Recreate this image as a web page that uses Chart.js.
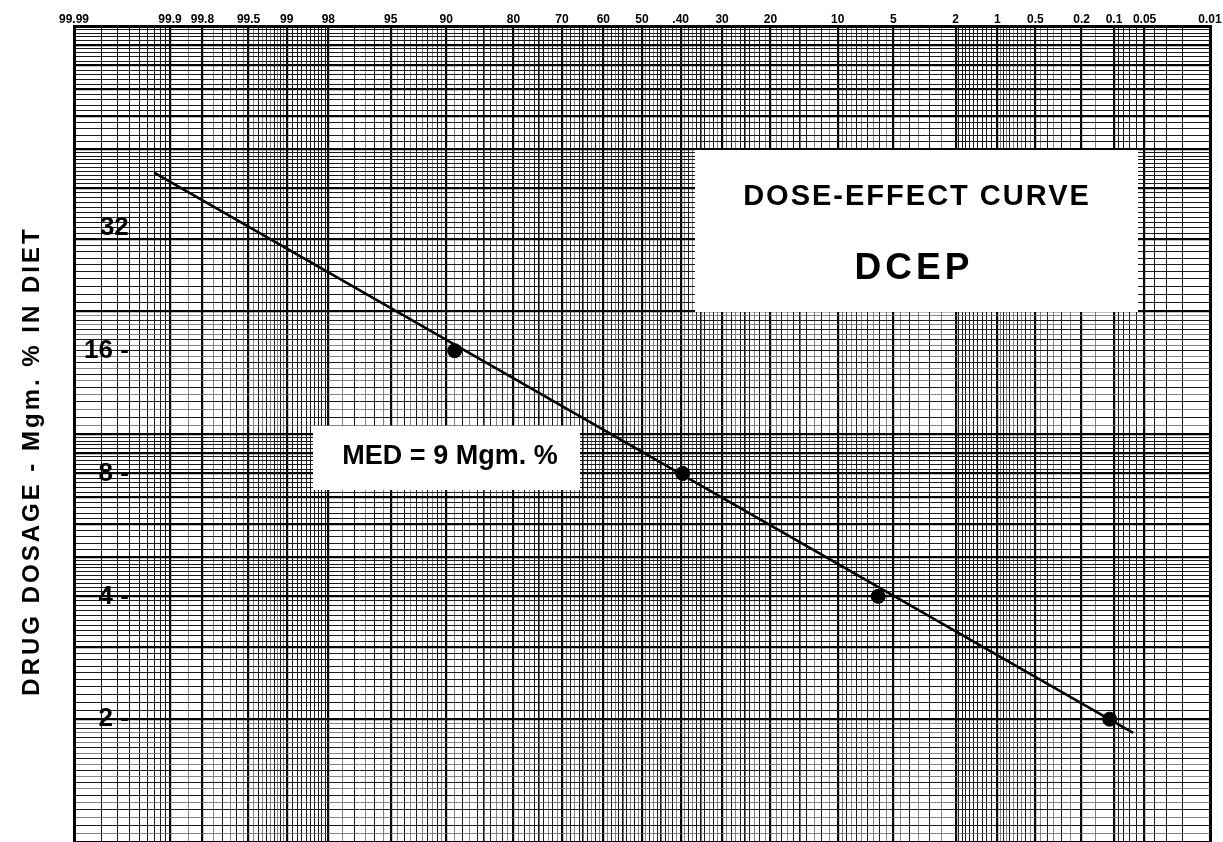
<!DOCTYPE html>
<html>
<head>
<meta charset="utf-8">
<script src="https://cdn.jsdelivr.net/npm/chart.js@4.4.1/dist/chart.umd.min.js"></script>
<style>
html,body{margin:0;padding:0;background:#fff;}
#wrap{width:1223px;height:842px;position:relative;overflow:hidden;}
</style>
</head>
<body>
<div id="wrap"><canvas id="c" width="1223" height="842"></canvas></div>
<script>
// ---------------- DATA ----------------
const pointEffectPct = [89, 39.5, 6.1, 0.11];     // % effect (probability scale)
const pointDoseMgPct = [16, 8, 4, 2];              // drug dosage, Mgm. % in diet
const fitEffectPct   = [99.93, 0.065];             // fitted dose-effect line end points
const fitDoseMgPct   = [43.7, 1.85];
const probTickValues = [99.99, 99.9, 99.8, 99.5, 99, 98, 95, 90, 80, 70, 60, 50, 40, 30, 20, 10, 5, 2, 1, 0.5, 0.2, 0.1, 0.05, 0.01];
const probTickLabels = ['99.99','99.9','99.8','99.5','99','98','95','90','80','70','60','50','.40','30','20','10','5','2','1','0.5','0.2','0.1','0.05','0.01'];
const doseTickValues = [2, 4, 8, 16, 32];
const doseTickLabels = ['2 -', '4 -', '8 -', '16 -', '32'];
const yTitle = 'DRUG DOSAGE - Mgm. % IN DIET';
const chartTitle = 'DOSE-EFFECT CURVE';
const chartSubtitle = 'DCEP';
const medNote = 'MED = 9 Mgm. %';

// ---------------- probability (probit) transform ----------------
function invNorm(p){
  const a=[-3.969683028665376e+01,2.209460984245205e+02,-2.759285104469687e+02,1.383577518672690e+02,-3.066479806614716e+01,2.506628277459239e+00];
  const b=[-5.447609879822406e+01,1.615858368580409e+02,-1.556989798598866e+02,6.680131188771972e+01,-1.328068155288572e+01];
  const c=[-7.784894002430293e-03,-3.223964580411365e-01,-2.400758277161838e+00,-2.549732539343734e+00,4.374664141464968e+00,2.938163982698783e+00];
  const d=[7.784695709041462e-03,3.224671290700398e-01,2.445134137142996e+00,3.754408661907416e+00];
  const pl=0.02425, ph=1-pl; let q,r;
  if(p<pl){q=Math.sqrt(-2*Math.log(p));return (((((c[0]*q+c[1])*q+c[2])*q+c[3])*q+c[4])*q+c[5])/((((d[0]*q+d[1])*q+d[2])*q+d[3])*q+1);}
  if(p<=ph){q=p-0.5;r=q*q;return (((((a[0]*r+a[1])*r+a[2])*r+a[3])*r+a[4])*r+a[5])*q/(((((b[0]*r+b[1])*r+b[2])*r+b[3])*r+b[4])*r+1);}
  q=Math.sqrt(-2*Math.log(1-p));return -(((((c[0]*q+c[1])*q+c[2])*q+c[3])*q+c[4])*q+c[5])/((((d[0]*q+d[1])*q+d[2])*q+d[3])*q+1);
}
const probX = pct => -invNorm(pct/100);

// ---------------- graph-paper rulings (axis construction) ----------------
const rank = {fine:0, minor:1, mid:2, major:3, edge:4};
function addLine(map, v, kind){
  const k = Math.round(v*10000)/10000;
  if(!map.has(k) || rank[map.get(k)] < rank[kind]) map.set(k, kind);
}
const probMap = new Map();
function addProb(p, kind){ addLine(probMap, p, kind); addLine(probMap, 100-p, kind); }
for(let i=1;i<=9;i++) addProb(i*0.01,'minor');
for(let i=2;i<=20;i++) addProb(i*0.05, i%2===0?'minor':'fine');
for(let i=10;i<=20;i++) addProb(i*0.1,'minor');
for(let i=4;i<=20;i++) addProb(i*0.5, i%2===0?'minor':'fine');
for(let i=10;i<=50;i++) addProb(i, i%5===0?'mid':(i%2===0?'minor':'fine'));
probTickValues.forEach(p=>addLine(probMap,p,'major'));
addLine(probMap,99.99,'edge'); addLine(probMap,0.01,'edge');

const doseMap = new Map();
for(let i=20;i<=40;i++) addLine(doseMap, i*0.05, i%2===0?'minor':'fine');
for(let i=20;i<=50;i++) addLine(doseMap, i*0.1, 'minor');
for(let i=25;i<=50;i++) addLine(doseMap, i*0.2, 'minor');
for(let i=20;i<=40;i++) addLine(doseMap, i*0.5, i%2===0?'minor':'fine');
for(let i=20;i<=50;i++) addLine(doseMap, i, 'minor');
for(let i=25;i<=50;i++) addLine(doseMap, i*2, 'minor');
for(let i=1;i<=10;i++){ addLine(doseMap,i,'major'); addLine(doseMap,i*10,'major'); }
addLine(doseMap,100,'edge'); addLine(doseMap,1,'edge');

const lineStyle = {
  edge:{w:3, c:'#000'}, major:{w:2.2, c:'#000'}, mid:{w:1.6, c:'#111'},
  minor:{w:1, c:'#1a1a1a'}, fine:{w:0.8, c:'#666'}
};
const gw = ctx => (ctx.tick && lineStyle[ctx.tick.kind] ? lineStyle[ctx.tick.kind].w : 1);
const gc = ctx => (ctx.tick && lineStyle[ctx.tick.kind] ? lineStyle[ctx.tick.kind].c : '#222');

// ---------------- annotation plugin ----------------
const annot = {
  id:'annot',
  beforeDatasetsDraw(chart){
    const ctx = chart.ctx;
    ctx.save();
    ctx.fillStyle = '#fff';
    ctx.fillRect(695,150,443,162);
    ctx.fillRect(313,426,267,64);
    ctx.fillStyle = '#000';
    ctx.textAlign = 'center';
    ctx.textBaseline = 'middle';
    ctx.font = 'bold 29px "Liberation Sans", Arial, sans-serif';
    ctx.letterSpacing = '2px';
    ctx.fillText(chartTitle, 917, 197);
    ctx.font = 'bold 37px "Liberation Sans", Arial, sans-serif';
    ctx.letterSpacing = '4px';
    ctx.fillText(chartSubtitle, 914, 269);
    ctx.font = 'bold 27px "Liberation Sans", Arial, sans-serif';
    ctx.letterSpacing = '0px';
    ctx.fillText(medNote, 450, 457);
    ctx.restore();
  },
  afterDraw(chart){
    const ctx = chart.ctx;
    ctx.save();
    ctx.translate(32, 461);
    ctx.rotate(-Math.PI/2);
    ctx.fillStyle = '#000';
    ctx.textAlign = 'center';
    ctx.textBaseline = 'middle';
    ctx.font = 'bold 24px "Liberation Sans", Arial, sans-serif';
    ctx.letterSpacing = '3px';
    ctx.fillText(yTitle, 0, 0);
    ctx.restore();
  }
};

// ---------------- chart ----------------
new Chart(document.getElementById('c'), {
  type:'scatter',
  data:{
    datasets:[
      {
        label:'Dose-effect line',
        type:'line',
        data: fitEffectPct.map((p,i)=>({x:probX(p), y:fitDoseMgPct[i]})),
        borderColor:'#000', borderWidth:2.6, pointRadius:0, showLine:true, fill:false, tension:0
      },
      {
        label:'Observed',
        data: pointEffectPct.map((p,i)=>({x:probX(p), y:pointDoseMgPct[i]})),
        backgroundColor:'#000', borderColor:'#000', pointRadius:7, pointHoverRadius:7
      }
    ]
  },
  options:{
    responsive:false, animation:false, devicePixelRatio:1,
    layout:{autoPadding:false, padding:{left:0,right:13,top:0,bottom:0}},
    plugins:{legend:{display:false}, tooltip:{enabled:false}, title:{display:false}},
    scales:{
      x:{
        type:'linear', position:'top',
        min: probX(99.99), max: probX(0.01),
        afterBuildTicks: s => {
          s.ticks = [...probMap.entries()].map(([p,kind])=>({value:probX(p), p, kind})).sort((a,b)=>a.value-b.value);
        },
        afterFit: s => { s.height = 26; },
        ticks:{
          autoSkip:false, maxRotation:0, minRotation:0, padding:0,
          color:'#000',
          font:{family:'"Liberation Sans Narrow","Liberation Sans",Arial,sans-serif', weight:'bold', size:12, lineHeight:1},
          callback:function(v, i, ticks){
            const t = ticks[i]; const idx = probTickValues.findIndex(q=>Math.abs(q-t.p)<1e-6);
            return idx>=0 ? probTickLabels[idx] : '';
          }
        },
        grid:{drawTicks:false, lineWidth:gw, color:gc},
        border:{display:true, width:3, color:'#000'}
      },
      y:{
        type:'logarithmic', position:'left',
        min:1, max:100,
        afterBuildTicks: s => {
          s.ticks = [...doseMap.entries()].map(([v,kind])=>({value:v, kind})).sort((a,b)=>a.value-b.value);
        },
        afterFit: s => { s.width = 74; s.paddingTop = 0; s.paddingBottom = 0; },
        ticks:{
          autoSkip:false, mirror:true, crossAlign:'far', padding:10,
          color:'#000',
          font:{family:'"Liberation Sans",Arial,sans-serif', weight:'bold', size:26, lineHeight:1},
          callback:function(v, i, ticks){
            const t = ticks[i]; const idx = doseTickValues.findIndex(q=>Math.abs(q-t.value)<1e-6);
            return idx>=0 ? doseTickLabels[idx] : '';
          }
        },
        grid:{drawTicks:false, lineWidth:gw, color:gc},
        border:{display:true, width:3, color:'#000'}
      }
    }
  },
  plugins:[annot]
});
</script>
</body>
</html>
